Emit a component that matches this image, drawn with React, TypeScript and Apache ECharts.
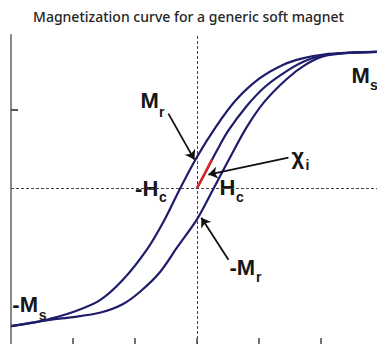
import React, { useEffect, useRef } from "react";
import * as echarts from "echarts";

const titleText = "Magnetization curve for a generic soft magnet";
const xTickValues = [-2, -1, 0, 1, 2];
const yTickValues = [1];

// [H, M] pairs
const descendingBranch = [
  [-3.0, -1.77], [-2.6, -1.72], [-2.38, -1.68], [-2.0, -1.59], [-1.57, -1.44],
  [-1.2, -1.18], [-0.81, -0.79], [-0.52, -0.4], [-0.27, 0], [0, 0.4],
  [0.3, 0.78], [0.62, 1.12], [1.0, 1.4], [1.39, 1.58], [1.7, 1.66],
  [2.04, 1.71], [2.5, 1.735], [2.9, 1.745],
];
const ascendingBranch = [
  [-3.0, -1.77], [-2.38, -1.69], [-2.0, -1.655], [-1.57, -1.6], [-1.2, -1.49],
  [-0.92, -1.33], [-0.6, -1.08], [-0.32, -0.76], [0, -0.4], [0.27, 0],
  [0.55, 0.42], [0.8, 0.78], [1.08, 1.1], [1.45, 1.4], [1.75, 1.58],
  [2.04, 1.69], [2.5, 1.735], [2.9, 1.745],
];
const initialCurve = [
  [0, 0], [0.15, 0.22], [0.3, 0.45], [0.5, 0.73], [0.8, 1.05], [1.1, 1.3],
  [1.45, 1.5], [1.72, 1.62], [2.04, 1.7], [2.5, 1.735], [2.9, 1.745],
];
const chiTangent = [[0, 0], [0.24, 0.365]];

const arrowLines = [
  { from: [-0.463, 0.953], to: [-0.044, 0.363] },
  { from: [1.473, 0.388], to: [0.182, 0.171] },
  { from: [0.505, -0.919], to: [0.069, -0.381] },
];

const labelTexts = [
  { main: "M", sub: "r", at: [-0.914, 1.126] },
  { main: "-H", sub: "c", at: [-1.0, -0.003] },
  { main: "H", sub: "c", at: [0.36, 0] },
  { main: "-M", sub: "r", at: [0.521, -1.015] },
  { main: "-M", sub: "s", at: [-2.979, -1.496] },
  { main: "M", sub: "s", at: [2.489, 1.446] },
  { main: "χ", sub: "i", at: [1.521, 0.401] },
];
// pixel offsets of subscripts (style)
const subOffsets = [
  [18.5, 12], [24, 9], [16.5, 9], [26.5, 10], [26.5, 10], [18.5, 10], [14, 8],
];

const curveColor = "#1d1d6b";

export default function App() {
  const ref = useRef<HTMLDivElement>(null);
  useEffect(() => {
    document.body.style.margin = "0";
    const chart = echarts.init(ref.current!, undefined, { renderer: "svg" });
    const curve = (name: string, data: number[][]) => ({
      name,
      type: "line",
      data,
      showSymbol: false,
      smooth: 0.3,
      silent: true,
      emphasis: { disabled: true },
      lineStyle: { color: curveColor, width: 2.2 },
      z: 3,
    });
    chart.setOption({
      animation: false,
      title: {
        text: titleText,
        left: "center",
        top: 9,
        padding: 0,
        textStyle: { fontSize: 14, fontWeight: 500, color: "#262626", fontFamily: "Noto Sans" },
      },
      grid: { left: 11, right: 0, top: 35, bottom: 0, containLabel: false },
      xAxis: {
        type: "value",
        min: -3,
        max: 2.9,
        interval: 1,
        axisLine: { show: false, onZero: false },
        axisTick: { show: true, inside: true, length: 6, customValues: xTickValues, lineStyle: { color: "#444", width: 1.5 } },
        axisLabel: { show: false },
        splitLine: { show: false },
      },
      yAxis: {
        type: "value",
        min: -2,
        max: 1.96,
        axisLine: { show: true, onZero: false, lineStyle: { color: "#888", width: 2 } },
        axisTick: { show: true, inside: true, length: 7, customValues: yTickValues, lineStyle: { color: "#555", width: 2 } },
        axisLabel: { show: false },
        splitLine: { show: false },
      },
      series: [
        {
          ...curve("descending", descendingBranch),
          markLine: {
            silent: true,
            symbol: "none",
            label: { show: false },
            lineStyle: { type: [3, 2], color: "#444", width: 1 },
            data: [{ xAxis: 0 }, { yAxis: 0 }],
            z: 1,
          },
        },
        curve("ascending", ascendingBranch),
        curve("initial", initialCurve),
        {
          name: "chi",
          type: "line",
          data: chiTangent,
          showSymbol: false,
          silent: true,
          emphasis: { disabled: true },
          lineStyle: { color: "#e3211d", width: 2.4 },
          z: 4,
          markLine: {
            silent: true,
            symbol: ["none", "arrow"],
            symbolSize: 9,
            label: { show: false },
            lineStyle: { type: "solid", color: "#111", width: 1.8 },
            data: arrowLines.map((a) => [{ coord: a.from }, { coord: a.to }]),
          },
        },
      ],
    });
    const font = '"Liberation Sans", Arial, sans-serif';
    const graphic: any[] = [];
    labelTexts.forEach((l, i) => {
      const p = chart.convertToPixel({ gridIndex: 0 }, l.at) as number[];
      graphic.push({
        type: "text",
        x: p[0],
        y: p[1],
        silent: true,
        style: { text: l.main, fill: "#161616", fontSize: 22, fontWeight: "bold", fontFamily: font, align: "left", verticalAlign: "middle" },
      });
      graphic.push({
        type: "text",
        x: p[0] + subOffsets[i][0],
        y: p[1] + subOffsets[i][1],
        silent: true,
        style: { text: l.sub, fill: "#161616", fontSize: 14, fontWeight: "bold", fontFamily: font, align: "left", verticalAlign: "middle" },
      });
    });
    chart.setOption({ graphic });
    return () => chart.dispose();
  }, []);
  return <div ref={ref} style={{ width: 377, height: 344 }} />;
}
